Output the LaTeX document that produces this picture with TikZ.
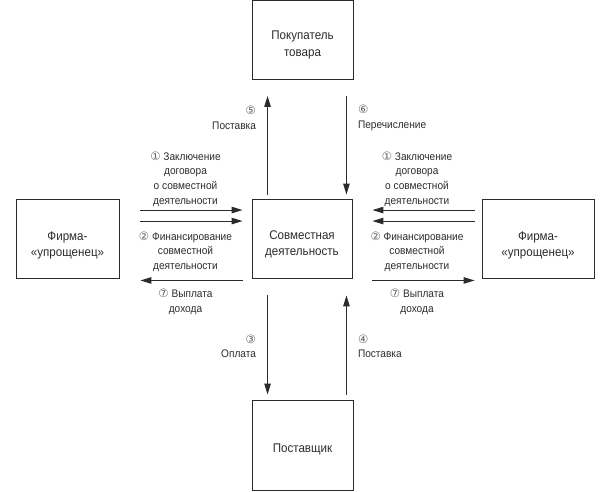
\documentclass[tikz,border=0pt]{standalone}
\usepackage{fontspec}
\setmainfont{Liberation Sans}[FakeStretch=0.92]
\newfontfamily\numfont{DejaVu Sans}
\usetikzlibrary{arrows.meta}
\definecolor{ink}{HTML}{2B2B2B}
\newcommand{\nr}[1]{{\numfont\fontsize{11.5}{10}\selectfont\color{ink!75}#1}}
\newcommand{\boxfont}{\fontsize{12.6}{16.5}\selectfont}
\newcommand{\lblfont}{\fontsize{11}{14.7}\selectfont}

\begin{document}
\begin{tikzpicture}[x=1pt,y=-1pt,
   box/.style={draw=ink, line width=0.9pt, inner sep=0pt, text=ink},
   intext/.style={font=\boxfont, align=center, text=ink, inner sep=0pt},
   flow/.style={draw=ink, line width=1.1pt, -{Triangle[length=11pt,width=6.5pt]}},
   lbl/.style={font=\lblfont, text=ink, inner sep=0pt}]
   \useasboundingbox (0,0) rectangle (610,491);

   % boxes
   \node[box, minimum width=101pt, minimum height=79pt,
         label={[intext, yshift=-5pt]center:Покупатель\\товара}] (buyer) at (302.5,40) {};
   \node[box, minimum width=100pt, minimum height=79pt,
         label={[intext, yshift=-6pt]center:Совместная\\деятельность}] (joint) at (302,238.5) {};
   \node[box, minimum width=101pt, minimum height=90pt,
         label={[intext, yshift=-4pt]center:Поставщик}] (supplier) at (302.5,445) {};
   \node[box, minimum width=103pt, minimum height=79pt,
         label={[intext, yshift=-7pt]center:Фирма-\\«упрощенец»}] (firmL) at (67.5,238.5) {};
   \node[box, minimum width=112pt, minimum height=79pt,
         label={[intext, yshift=-7pt]center:Фирма-\\«упрощенец»}] (firmR) at (538,238.5) {};

   % buyer
   \draw[flow, shorten <=4pt, shorten >=16pt] ([xshift=16pt]joint.north west)
      -- node[lbl, pos=0.68, left=11pt, align=right] {\nr{⑤}\\Поставка}
      ([xshift=16pt]joint.north west |- buyer.south);
   \draw[flow, shorten <=16pt, shorten >=4pt] ([xshift=-6pt]joint.north east |- buyer.south)
      -- node[lbl, pos=0.32, right=11pt, align=left] {\nr{⑥}\\Перечисление}
      ([xshift=-6pt]joint.north east);

   % supplier
   \draw[flow, shorten <=17pt, shorten >=5pt] ([xshift=16pt]joint.south west)
      -- node[lbl, pos=0.56, left=11pt, align=right] {\nr{③}\\Оплата}
      ([xshift=16pt]joint.south west |- supplier.north);
   \draw[flow, shorten <=5pt, shorten >=17pt] ([xshift=-6pt]joint.south east |- supplier.north)
      -- node[lbl, pos=0.44, right=11pt, align=left] {\nr{④}\\Поставка}
      ([xshift=-6pt]joint.south east);

   % left firm
   \draw[flow, shorten <=21pt, shorten >=9pt] ([yshift=-11.5pt]firmL.north east)
      -- node[lbl, above=3pt, align=center] {\nr{①} Заключение\\договора\\о совместной\\деятельности}
      ([yshift=-11.5pt]joint.north west);
   \draw[flow, shorten <=21pt, shorten >=9pt] ([yshift=-22.5pt]firmL.north east)
      -- node[lbl, below=10pt, align=center] {\nr{②} Финансирование\\совместной\\деятельности}
      ([yshift=-22.5pt]joint.north west);
   \draw[flow, shorten <=9pt, shorten >=21pt] ([yshift=-2pt]joint.south west)
      -- node[lbl, below=8pt, align=center] {\nr{⑦} Выплата\\дохода}
      ([yshift=-2pt]firmL.south east);

   % right firm
   \draw[flow, shorten <=7pt, shorten >=20pt] ([yshift=-11.5pt]firmR.north west)
      -- node[lbl, above=3pt, align=center] {\nr{①} Заключение\\договора\\о совместной\\деятельности}
      ([yshift=-11.5pt]joint.north east);
   \draw[flow, shorten <=7pt, shorten >=20pt] ([yshift=-22.5pt]firmR.north west)
      -- node[lbl, below=10pt, align=center] {\nr{②} Финансирование\\совместной\\деятельности}
      ([yshift=-22.5pt]joint.north east);
   \draw[flow, shorten <=20pt, shorten >=7pt] ([yshift=-2pt]joint.south east)
      -- node[lbl, below=8pt, align=center] {\nr{⑦} Выплата\\дохода}
      ([yshift=-2pt]firmR.south west);
\end{tikzpicture}
\end{document}
